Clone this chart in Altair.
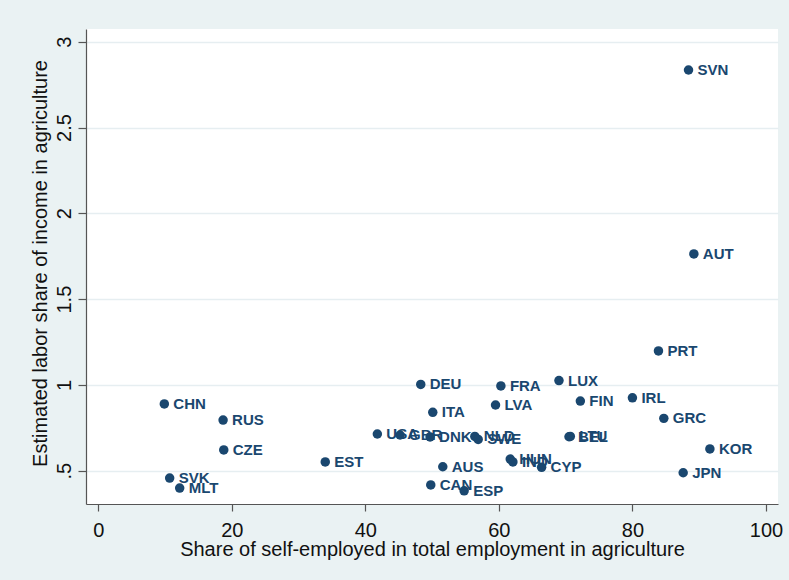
import altair as alt
import pandas as pd

# Country codes, share of self-employed (%) and estimated labour share
codes = ["SVN", "AUT", "PRT", "LUX", "IRL", "FIN", "GRC", "BEL", "LTU",
         "KOR", "JPN", "CHN", "RUS", "CZE", "SVK", "MLT", "EST", "DEU",
         "ITA", "FRA", "LVA", "USA", "GBR", "DNK", "NLD", "SWE", "AUS",
         "CAN", "ESP", "HUN", "IND", "CYP"]
self_employed = [88.4, 89.2, 83.9, 69.0, 80.0, 72.2, 84.7, 70.5, 70.7,
                 91.6, 87.6, 9.9, 18.7, 18.8, 10.7, 12.2, 34.0, 48.3,
                 50.1, 60.3, 59.5, 41.8, 45.2, 49.7, 56.4, 56.9, 51.6,
                 49.8, 54.8, 61.7, 62.1, 66.4]
labor_share = [2.835, 1.763, 1.198, 1.025, 0.925, 0.906, 0.805, 0.698, 0.700,
               0.627, 0.488, 0.889, 0.795, 0.621, 0.457, 0.399, 0.551, 1.003,
               0.840, 0.994, 0.883, 0.714, 0.708, 0.697, 0.700, 0.682, 0.523,
               0.417, 0.383, 0.568, 0.551, 0.520]

x_ticks = [0, 20, 40, 60, 80, 100]
y_ticks = [0.5, 1, 1.5, 2, 2.5, 3]

df = pd.DataFrame({"code": codes, "self_emp": self_employed, "share": labor_share})

NAVY = "#1a476f"
FONT = "Liberation Sans"
INK = "#111111"

x_enc = alt.X(
    "self_emp:Q",
    scale=alt.Scale(domain=[-1.83, 101.8], nice=False, zero=False),
    axis=alt.Axis(
        values=x_ticks, grid=False,
        title="Share of self-employed in total employment in agriculture",
        titleFontSize=20, titleFontWeight="normal", titleFont=FONT, titleColor=INK,
        titleX=346, titleY=45, titleBaseline="middle", titleAlign="center",
        labelFontSize=20, labelFont=FONT, labelColor=INK, labelPadding=9,
        tickSize=7, tickColor="#555", domainColor="#555", domainWidth=1.2, tickWidth=1.2,
    ),
)
y_enc = alt.Y(
    "share:Q",
    scale=alt.Scale(domain=[0.306, 3.074], nice=False, zero=False),
    axis=alt.Axis(
        values=y_ticks, grid=True, gridColor="#e6eef1", gridWidth=1.5,
        title="Estimated labor share of income in agriculture",
        titleFontSize=20, titleFontWeight="normal", titleFont=FONT, titleColor=INK,
        titleX=-46, titleY=234, titleAngle=270, titleBaseline="middle", titleAlign="center",
        labelFontSize=20, labelFont=FONT, labelColor=INK, labelPadding=4,
        labelAngle=270, labelAlign="center", labelBaseline="bottom",
        labelExpr="datum.value == 0.5 ? '.5' : toString(datum.value)",
        tickSize=8, tickColor="#555", domainColor="#555", domainWidth=1.2, tickWidth=1.2,
    ),
)

points = alt.Chart(df).mark_circle(size=90, color=NAVY, opacity=1).encode(x=x_enc, y=y_enc)
labels = alt.Chart(df).mark_text(
    align="left", baseline="middle", dx=9, fontSize=15, fontWeight="bold",
    font=FONT, color=NAVY
).encode(x=x_enc, y=y_enc, text="code:N")

chart = alt.layer(points, labels).properties(
    width=692, height=475,
    autosize=alt.AutoSizeParams(type="none"),
    padding={"left": 86, "top": 29, "right": 11, "bottom": 76},
    background="#eaf2f3",
).configure_view(fill="white", strokeWidth=0)

chart.save("out.html", embed_options={"renderer": "svg", "actions": False})
